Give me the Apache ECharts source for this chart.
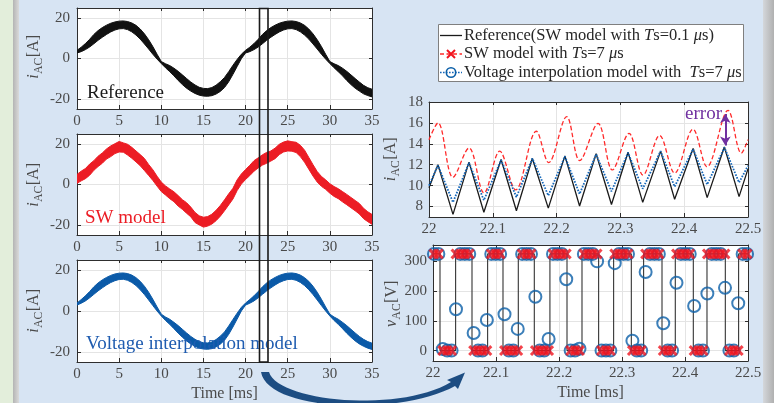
<!DOCTYPE html>
<html><head><meta charset="utf-8">
<script src="https://cdn.jsdelivr.net/npm/echarts@6/dist/echarts.min.js"></script>
<style>html,body{margin:0;padding:0;background:#d7e4f3}#c{width:774px;height:403px}</style>
</head><body><div id="c"></div>
<script>
const FONT = "'Liberation Serif','Times New Roman',serif";

// ---------- left plots: full 35 ms window ----------
const tLeft = [0,0.5,1,1.5,2,2.5,3,3.5,4,4.5,5,5.5,6,6.5,7,7.5,8,8.5,9,9.5,10,10.5,11,11.5,12,12.5,13,13.5,14,14.5,15,15.5,16,16.5,17,17.5,18,18.5,19,19.5,20,20.5,21,21.5,22,22.5,23,23.5,24,24.5,25,25.5,26,26.5,27,27.5,28,28.5,29,29.5,30,30.5,31,31.5,32,32.5,33,33.5,34,34.5,35];
const leftTicks = [0,5,10,15,20,25,30,35];
const leftYTicks = [-20,0,20];

// Reference: band centre and ripple (peak-to-peak)
const refCenter = [3.4,4.5,5.9,7.6,9.6,11.4,12.9,14.2,15.3,16.1,16.6,16.7,16.3,15.4,14.0,12.1,9.7,7.0,4.0,0.9,-2.0,-3.6,-5.0,-6.7,-8.6,-10.5,-12.3,-13.9,-15.2,-16.2,-16.7,-16.8,-16.4,-15.4,-13.9,-11.9,-9.0,-5.6,-2.2,1.0,3.4,
  4.5,5.9,7.6,9.6,11.4,12.9,14.2,15.3,16.1,16.6,16.7,16.3,15.4,14.0,12.1,9.7,7.0,4.0,0.9,-2.0,-3.6,-5.0,-6.7,-8.6,-10.5,-12.3,-13.9,-15.4,-16.4,-17.1];
const refRipple = [1.3,2.2,3.0,3.8,4.6,4.8,4.8,4.6,4.3,4.0,3.8,3.8,4.0,4.4,4.8,5.0,5.0,4.6,3.8,2.4,1.0,2.0,3.0,3.8,4.5,4.8,4.8,4.5,4.2,3.9,3.8,3.8,4.0,4.4,4.8,5.0,5.0,4.5,3.5,2.2,1.3,
  2.2,3.0,3.8,4.6,4.8,4.8,4.6,4.3,4.0,3.8,3.8,4.0,4.4,4.8,5.0,5.0,4.6,3.8,2.4,1.0,2.0,3.0,3.8,4.5,4.8,4.8,4.5,4.2,3.9,3.8];

// SW model: noisy band upper / lower edge
const swUpper = [5.0,6.6,7.9,10.1,11.8,14.0,15.6,17.6,19.1,20.2,21.3,20.6,19.9,18.4,16.6,14.8,12.9,9.9,7.3,4.1,1.2,-0.7,-2.2,-3.6,-5.5,-7.5,-9.0,-11.2,-13.8,-15.5,-16.2,-15.9,-14.7,-12.8,-10.4,-7.6,-4.6,-1.9,2.3,5.2,7.4,9.5,11.8,13.2,14.7,15.9,16.6,18.0,19.9,21.0,21.6,21.2,20.9,19.4,17.0,13.4,9.8,6.4,4.0,2.3,0.4,-1.0,-2.1,-3.5,-4.9,-6.4,-7.9,-9.4,-11.8,-13.5,-14.8];
const swLower = [0.6,1.8,2.9,4.6,7.0,8.9,10.5,12.6,13.8,15.3,16.1,16.0,14.6,13.0,11.2,9.3,6.9,4.5,2.0,-0.8,-3.5,-5.2,-7.0,-8.5,-10.7,-12.3,-14.2,-16.0,-18.8,-20.0,-21.1,-20.6,-19.6,-17.9,-15.7,-13.0,-10.1,-7.2,-3.0,0.2,2.5,4.4,6.6,8.2,9.6,10.5,11.6,12.8,14.8,16.1,16.6,16.5,15.8,13.8,11.0,7.6,4.2,1.2,-0.9,-2.4,-4.3,-5.9,-7.0,-8.6,-10.0,-11.5,-13.0,-14.6,-16.9,-18.4,-19.7];

// Voltage interpolation model: band centre and ripple
const viCenter = [3.4,4.7,6.2,8.0,10.0,11.8,13.3,14.6,15.7,16.5,17.0,17.1,16.7,15.8,14.4,12.5,10.1,7.3,4.2,1.0,-2.0,-3.8,-5.3,-7.1,-9.0,-10.9,-12.7,-14.3,-15.6,-16.6,-17.1,-17.2,-16.8,-15.8,-14.3,-12.3,-9.4,-6.0,-2.5,0.9,3.4,
  4.7,6.2,8.0,10.0,11.8,13.3,14.6,15.7,16.5,17.0,17.1,16.7,15.8,14.4,12.5,10.1,7.3,4.2,1.0,-2.0,-3.8,-5.3,-7.1,-9.0,-10.9,-12.7,-14.3,-15.6,-16.6,-17.3];
const viRipple = [1.0,1.8,2.5,3.1,3.7,3.9,3.9,3.7,3.5,3.3,3.1,3.1,3.3,3.6,3.9,4.1,4.1,3.8,3.1,2.0,0.9,1.7,2.5,3.1,3.7,3.9,3.9,3.7,3.4,3.2,3.1,3.1,3.3,3.6,3.9,4.1,4.1,3.7,2.9,1.8,1.0,
  1.8,2.5,3.1,3.7,3.9,3.9,3.7,3.5,3.3,3.1,3.1,3.3,3.6,3.9,4.1,4.1,3.8,3.1,2.0,0.9,1.7,2.5,3.1,3.7,3.9,3.9,3.7,3.4,3.2,3.1];

// ---------- right-top: current, 22 - 22.5 ms ----------
const zoomTicks = [22,22.1,22.2,22.3,22.4,22.5];
const iZoomTicks = [8,10,12,14,16,18];
const refZT = [22,22.014,22.0376,22.0627,22.086,22.113,22.137,22.162,22.187,22.213,22.236,22.262,22.286,22.312,22.335,22.363,22.385,22.414,22.436,22.463,22.486,22.5];
const refZI = [9.8,12.0,7.25,12.25,7.45,12.5,7.6,12.6,7.85,12.85,8.05,13.05,8.2,13.2,8.4,13.3,8.7,13.55,8.85,13.7,8.95,11.6];
const swZT = [22,22.0141,22.0376,22.0627,22.0862,22.1108,22.1358,22.1682,22.1876,22.2158,22.2362,22.2649,22.2874,22.3135,22.3354,22.3615,22.3851,22.4138,22.4357,22.4687,22.4895,22.5];
const swZI = [14.4,16.0,10.8,13.6,9.3,13.3,9.6,15.2,12.2,16.6,12.4,15.95,11.5,15.0,11.0,14.8,11.2,15.4,11.8,17.2,13.1,14.4];
const viZT = [22,22.014,22.0376,22.0627,22.086,22.113,22.137,22.162,22.187,22.213,22.236,22.262,22.286,22.312,22.335,22.363,22.385,22.414,22.436,22.463,22.486,22.5];
const viZI = [10.0,11.95,8.4,12.2,8.6,12.45,8.9,12.6,9.05,12.8,9.2,13.0,9.45,13.15,9.7,13.3,9.9,13.5,10.1,13.65,10.3,11.9];
const errorT = 22.4645, errorLow = 13.85, errorHigh = 16.85;

// ---------- right-bottom: voltage, 22 - 22.5 ms ----------
const vTicks = [0,100,200,300];
const vRefT = [22,22.0111,22.0359,22.0619,22.0867,22.1111,22.1354,22.1608,22.1856,22.2127,22.2365,22.2629,22.2867,22.3148,22.3343,22.3635,22.3846,22.4132,22.4349,22.464,22.4851,22.5];
const vRefV = [325,0,325,0,325,0,325,0,325,0,325,0,325,0,325,0,325,0,325,0,325,325];
const sampleT = [22.0015,22.0085,22.0155,22.0225,22.0295,22.0365,22.0435,22.0505,22.0575,22.0645,22.0715,22.0785,22.0855,22.0925,22.0995,22.1065,22.1135,22.1205,22.1275,22.1345,22.1415,22.1485,22.1555,22.1625,22.1695,22.1765,22.1835,22.1905,22.1975,22.2045,22.2115,22.2185,22.2255,22.2325,22.2395,22.2465,22.2535,22.2605,22.2675,22.2745,22.2815,22.2885,22.2955,22.3025,22.3095,22.3165,22.3235,22.3305,22.3375,22.3445,22.3515,22.3585,22.3655,22.3725,22.3795,22.3865,22.3935,22.4005,22.4075,22.4145,22.4215,22.4285,22.4355,22.4425,22.4495,22.4565,22.4635,22.4705,22.4775,22.4845,22.4915,22.4985];
const vSW = [325,325,0,0,0,325,325,325,325,0,0,0,0,325,325,325,0,0,0,0,325,325,325,0,0,0,0,325,325,325,325,0,0,0,325,325,325,325,0,0,0,325,325,325,325,0,0,0,325,325,325,325,0,0,0,325,325,325,325,0,0,0,325,325,325,325,325,0,0,0,325,325];
const vVI = [325,325,5,0,0,139,325,325,325,59,0,0,103,325,325,325,122,0,0,73,325,325,325,181,0,0,39,325,325,325,240,0,0,6,325,325,325,300,0,0,0,294,325,325,325,33,0,0,264,325,325,325,92,0,0,228,325,325,325,150,0,0,192,325,325,325,211,0,0,159,325,325];

// ---------- helpers ----------
const zip = (a, b) => a.map((v, i) => [v, b[i]]);
const AXC = '#2e2e2e', LBL = '#4a4a4a', GRIDC = '#e4e4e4';
const fmt1 = v => String(Math.round(v * 10) / 10);

function xAxes(gi, min, max, ticks, name) {
  return [{
    type: 'value', gridIndex: gi, min, max, position: 'bottom',
    axisLine: {show: true, onZero: false, lineStyle: {color: AXC, width: 1}},
    axisTick: {show: true, inside: true, length: 4, customValues: ticks, lineStyle: {color: AXC}},
    axisLabel: {show: true, customValues: ticks, margin: 5, formatter: fmt1, fontFamily: FONT, fontSize: 15, color: LBL},
    splitLine: {show: true, lineStyle: {color: GRIDC, width: 1}},
    name: name || '', nameLocation: 'middle', nameGap: 24,
    nameTextStyle: {fontFamily: FONT, fontSize: 16, color: LBL}
  }, {
    type: 'value', gridIndex: gi, min, max, position: 'top',
    axisLine: {show: true, onZero: false, lineStyle: {color: AXC, width: 1}},
    axisTick: {show: true, inside: true, length: 3, customValues: ticks, lineStyle: {color: AXC}},
    axisLabel: {show: false}, splitLine: {show: false}
  }];
}
function yAxes(gi, min, max, ticks, margin) {
  return [{
    type: 'value', gridIndex: gi, min, max, position: 'left',
    axisLine: {show: true, onZero: false, lineStyle: {color: AXC, width: 1}},
    axisTick: {show: true, inside: true, length: 4, customValues: ticks, lineStyle: {color: AXC}},
    axisLabel: {show: true, customValues: ticks, margin: margin, fontFamily: FONT, fontSize: 15, color: LBL},
    splitLine: {show: true, lineStyle: {color: GRIDC, width: 1}}
  }, {
    type: 'value', gridIndex: gi, min, max, position: 'right',
    axisLine: {show: true, onZero: false, lineStyle: {color: AXC, width: 1}},
    axisTick: {show: true, inside: true, length: 3, customValues: ticks, lineStyle: {color: AXC}},
    axisLabel: {show: false}, splitLine: {show: false}
  }];
}
function bandSeries(gi, upperFn, lowerFn, color) {
  return {
    type: 'custom', xAxisIndex: 2 * gi, yAxisIndex: 2 * gi, clip: true, silent: true,
    data: [[0, 0]],
    renderItem: function (params, api) {
      const pts = [];
      for (let i = 0; i < tLeft.length; i++) pts.push(api.coord([tLeft[i], upperFn(i)]));
      for (let i = tLeft.length - 1; i >= 0; i--) pts.push(api.coord([tLeft[i], lowerFn(i)]));
      return {type: 'polygon', shape: {points: pts}, style: {fill: color, stroke: color, lineWidth: 1}};
    }
  };
}
function yLab(cx, cy, main, unit) {
  const wMain = main === 'i' ? 4.6 : 7.2, wSub = 16.5;
  const W = wMain + wSub + 22.5, x0 = -W / 2;
  const st = (t, f) => ({text: t, font: f, fill: LBL, align: 'left', textAlign: 'left', verticalAlign: 'middle', textVerticalAlign: 'middle'});
  return {type: 'group', x: cx, y: cy, rotation: Math.PI / 2, z: 100, children: [
    {type: 'text', x: x0, y: 0, style: st(main, 'italic 16px ' + FONT)},
    {type: 'text', x: x0 + wMain + 0.5, y: 4.5, style: st('AC', '11.5px ' + FONT)},
    {type: 'text', x: x0 + wMain + wSub + 0.5, y: 0, style: st(unit, '16px ' + FONT)}
  ]};
}
function txt(x, y, text, size, color, align) {
  return {type: 'text', x, y, z: 100, style: {text, font: size + 'px ' + FONT, fill: color,
    align: align || 'left', textAlign: align || 'left', verticalAlign: 'middle', textVerticalAlign: 'middle'}};
}
const legRich = {
  n: {fontFamily: FONT, fontSize: 16.5, color: '#262626'},
  it: {fontFamily: FONT, fontSize: 16.5, fontStyle: 'italic', color: '#262626'}
};
function legText(y, text) {
  return {type: 'text', x: 464, y, z: 100, style: {text, rich: legRich, font: '16.5px ' + FONT, fill: '#262626',
    align: 'left', textAlign: 'left', verticalAlign: 'middle', textVerticalAlign: 'middle'}};
}
// curved arrow outline (annotation, pixel space)
function bez(p0, p1, p2, p3, n) {
  const out = [];
  for (let k = 0; k <= n; k++) {
    const t = k / n, a = (1 - t) * (1 - t) * (1 - t), b = 3 * (1 - t) * (1 - t) * t, c = 3 * (1 - t) * t * t, d = t * t * t;
    out.push([a * p0[0] + b * p1[0] + c * p2[0] + d * p3[0], a * p0[1] + b * p1[1] + c * p2[1] + d * p3[1]]);
  }
  return out;
}
const arrowPts = [].concat(
  bez([269, 372], [278, 402], [400, 413], [451, 382], 30),
  [[447, 380], [465, 372.5], [458, 389]],
  bez([455, 386], [400, 416], [268, 412], [261, 372], 30));

const xAxis = [].concat(
  xAxes(0, 0, 35, leftTicks), xAxes(1, 0, 35, leftTicks), xAxes(2, 0, 35, leftTicks, 'Time [ms]'),
  xAxes(3, 22, 22.5, zoomTicks), xAxes(4, 22, 22.5, zoomTicks, 'Time [ms]'));
const yAxis = [].concat(
  yAxes(0, -25, 25, leftYTicks, 7), yAxes(1, -25, 25, leftYTicks, 7), yAxes(2, -25, 25, leftYTicks, 7),
  yAxes(3, 7, 18, iZoomTicks, 6), yAxes(4, -35, 355, vTicks, 6));

const xMarkPath = 'path://M2,0L5,3L8,0L10,2L7,5L10,8L8,10L5,7L2,10L0,8L3,5L0,2Z';

const option = {
  animation: false,
  backgroundColor: '#d7e4f3',
  grid: [
    {left: 77, top: 8, width: 295, height: 101, show: true, backgroundColor: '#fff', borderWidth: 0},
    {left: 77, top: 134, width: 295, height: 101, show: true, backgroundColor: '#fff', borderWidth: 0},
    {left: 77, top: 260, width: 295, height: 102, show: true, backgroundColor: '#fff', borderWidth: 0},
    {left: 429, top: 102, width: 319, height: 115, show: true, backgroundColor: '#fff', borderWidth: 0},
    {left: 433, top: 245, width: 315, height: 116, show: true, backgroundColor: '#fff', borderWidth: 0}
  ],
  xAxis, yAxis,
  series: [
    bandSeries(0, i => refCenter[i] + refRipple[i] / 2, i => refCenter[i] - refRipple[i] / 2, '#111111'),
    bandSeries(1, i => swUpper[i], i => swLower[i], '#ec1c24'),
    bandSeries(2, i => viCenter[i] + viRipple[i] / 2, i => viCenter[i] - viRipple[i] / 2, '#0b5aa8'),
    {name: 'Reference', type: 'line', xAxisIndex: 6, yAxisIndex: 6, data: zip(refZT, refZI), symbol: 'none',
     lineStyle: {color: '#1a1a1a', width: 1.3}, z: 3,
     markLine: {silent: true, symbol: ['arrow', 'arrow'], symbolSize: [8, 9], label: {show: false},
       lineStyle: {color: '#7030a0', width: 2, type: 'solid'},
       data: [[{coord: [errorT, errorLow]}, {coord: [errorT, errorHigh]}]]}},
    {name: 'SW model', type: 'line', xAxisIndex: 6, yAxisIndex: 6, data: zip(swZT, swZI), symbol: 'none', smooth: 0.35,
     lineStyle: {color: '#ff2a2a', width: 1.3, type: [4.5, 2.5]}, z: 2},
    {name: 'VI model', type: 'line', xAxisIndex: 6, yAxisIndex: 6, data: zip(viZT, viZI), symbol: 'none',
     lineStyle: {color: '#1466b8', width: 1.8, type: [1.6, 1.4]}, z: 4},
    {name: 'Reference v', type: 'line', xAxisIndex: 8, yAxisIndex: 8, data: zip(vRefT, vRefV), step: 'end', symbol: 'none',
     lineStyle: {color: '#333333', width: 1.1}, z: 2},
    {name: 'VI model v', type: 'scatter', xAxisIndex: 8, yAxisIndex: 8, data: zip(sampleT, vVI), symbol: 'circle', symbolSize: 12,
     itemStyle: {color: 'rgba(0,0,0,0)', borderColor: '#0b5fa8', borderWidth: 2}, z: 3},
    {name: 'SW model v', type: 'scatter', xAxisIndex: 8, yAxisIndex: 8, data: zip(sampleT, vSW), symbol: xMarkPath, symbolSize: 11,
     itemStyle: {color: '#f0141e'}, z: 4}
  ],
  graphic: [
    {type: 'rect', z: 1, shape: {x: 0, y: 0, width: 13, height: 403}, style: {fill: '#e3eedb'}},
    {type: 'rect', z: 1, shape: {x: 13, y: 0, width: 6, height: 403},
     style: {fill: {type: 'linear', x: 0, y: 0, x2: 1, y2: 0, colorStops: [{offset: 0, color: '#b4b4b4'}, {offset: 1, color: '#dadada'}]}}},
    {type: 'rect', z: 1, shape: {x: 763, y: 0, width: 11, height: 403},
     style: {fill: {type: 'linear', x: 0, y: 0, x2: 1, y2: 0, colorStops: [{offset: 0, color: '#d4d7db'}, {offset: 1, color: '#b0b0b0'}]}}},
    // legend box
    {type: 'rect', z: 50, shape: {x: 438.5, y: 24.5, width: 305, height: 57}, style: {fill: '#ffffff', stroke: '#7f7f7f', lineWidth: 1}},
    {type: 'line', z: 60, shape: {x1: 440, y1: 35.5, x2: 462, y2: 35.5}, style: {stroke: '#1a1a1a', lineWidth: 1.3}},
    {type: 'line', z: 60, shape: {x1: 440, y1: 54, x2: 462, y2: 54}, style: {stroke: '#ff2a2a', lineWidth: 1.3, lineDash: [4, 2.5]}},
    {type: 'line', z: 61, shape: {x1: 447, y1: 50, x2: 455, y2: 58}, style: {stroke: '#f0141e', lineWidth: 2}},
    {type: 'line', z: 61, shape: {x1: 447, y1: 58, x2: 455, y2: 50}, style: {stroke: '#f0141e', lineWidth: 2}},
    {type: 'line', z: 60, shape: {x1: 440, y1: 72.5, x2: 462, y2: 72.5}, style: {stroke: '#1466b8', lineWidth: 1.6, lineDash: [1.6, 1.4]}},
    {type: 'circle', z: 61, shape: {cx: 451, cy: 72.5, r: 4.7}, style: {fill: 'none', stroke: '#0b5fa8', lineWidth: 1.6}},
    legText(35.5, '{n|Reference(SW model with }{it|T}{n|s=0.1 }{it|μ}{n|s)}'),
    legText(54, '{n|SW model with }{it|T}{n|s=7 }{it|μ}{n|s}'),
    legText(72.5, '{n|Voltage interpolation model with  }{it|T}{n|s=7 }{it|μ}{n|s}'),
    // axis names
    yLab(34, 57, 'i', '[A]'), yLab(34, 185, 'i', '[A]'), yLab(34, 311, 'i', '[A]'),
    yLab(391, 159.5, 'i', '[A]'), yLab(392, 304, 'v', '[V]'),
    // panel labels
    txt(87, 93.5, 'Reference', 19, '#1a1a1a'),
    txt(85, 218.5, 'SW model', 19, '#ec1c24'),
    txt(86, 344.5, 'Voltage interpolation model', 19, '#1f5cb0'),
    txt(722, 114, 'error', 19, '#7030a0', 'right'),
    // highlighted window
    {type: 'rect', z: 120, shape: {x: 259.5, y: 8.5, width: 8.5, height: 353.5}, style: {fill: 'none', stroke: '#1a1a1a', lineWidth: 1.6}},
    // curved arrow
    {type: 'polygon', z: 120, shape: {points: arrowPts}, style: {fill: '#1d4d82'}}
  ]
};
const chart = echarts.init(document.getElementById('c'), null, {renderer: 'canvas'});
chart.setOption(option);
</script></body></html>
